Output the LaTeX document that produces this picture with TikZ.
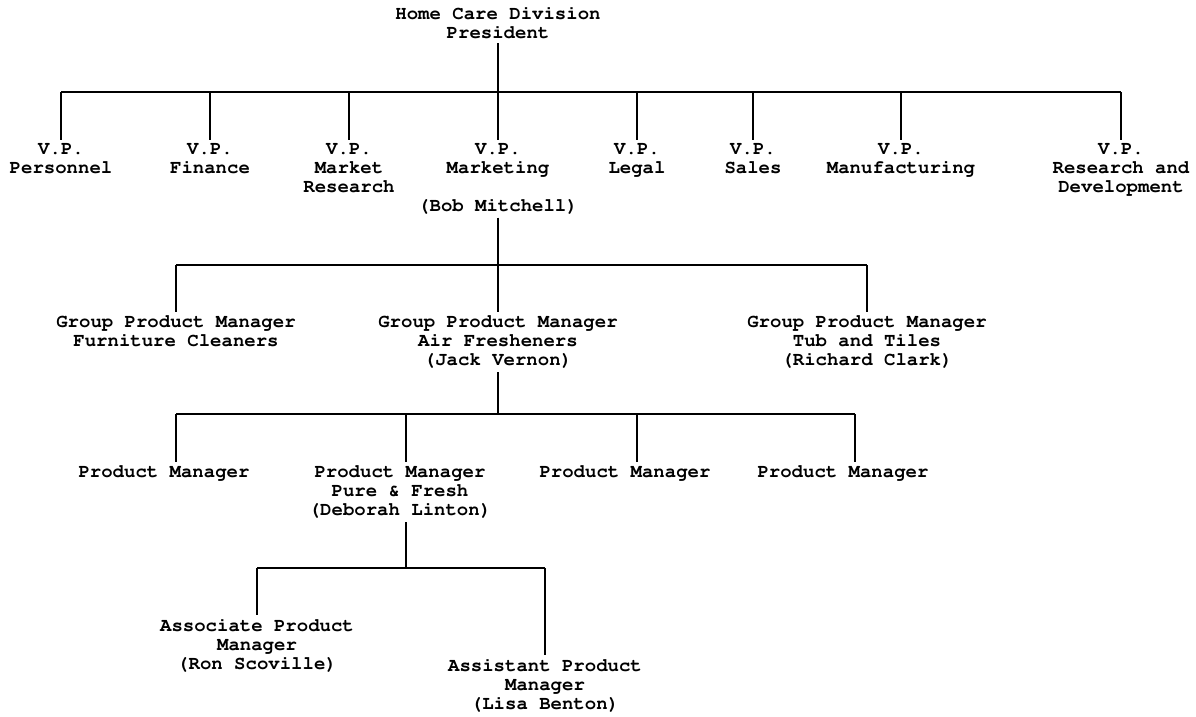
\documentclass[tikz,border=0pt]{standalone}
\usepackage[T1]{fontenc}
\usepackage{courier}
\usetikzlibrary{positioning}

\tikzset{
  post/.style={anchor=north, align=center, inner sep=0pt, outer sep=4pt,
    font=\ttfamily\bfseries\fontsize{19}{19}\selectfont},
  link/.style={line width=1.2pt}
}

\begin{document}
\begin{tikzpicture}[x=1pt, y=-1pt]
  \useasboundingbox (0,0) rectangle (1196,717);

  % 社長
  \node[post] (pres) at (498,3) {Home Care Division\\President};

  % 副社長
  \node[post] (vpPers)  at (61,140)   {V.P.\\Personnel};
  \node[post] (vpFin)   at (210,140)  {V.P.\\Finance};
  \node[post] (vpMR)    at (349,140)  {V.P.\\Market\\Research};
  \node[post] (vpMkt)   at (498,140)  {V.P.\\Marketing\\\mbox{}\\(Bob Mitchell)};
  \node[post] (vpLegal) at (637,140)  {V.P.\\Legal};
  \node[post] (vpSales) at (753,140)  {V.P.\\Sales};
  \node[post] (vpMfg)   at (901,140)  {V.P.\\Manufacturing};
  \node[post] (vpRD)    at (1121,140) {V.P.\\Research and\\Development};

  % グループ
  \node[post] (gpFurn) at (176,312) {Group Product Manager\\Furniture Cleaners};
  \node[post] (gpAir)  at (498,312) {Group Product Manager\\Air Fresheners\\(Jack Vernon)};
  \node[post] (gpTub)  at (867,312) {Group Product Manager\\Tub and Tiles\\(Richard Clark)};

  % 製品
  \node[post] (pm1) at (164,462) {Product Manager};
  \node[post] (pm2) at (400,462) {Product Manager\\Pure \& Fresh\\(Deborah Linton)};
  \node[post] (pm3) at (625,462) {Product Manager};
  \node[post] (pm4) at (843,462) {Product Manager};

  % アシスタント
  \node[post] (apmRon)  at (257,615) {Associate Product\\Manager\\(Ron Scoville)};
  \node[post] (apmLisa) at (545,655) {Assistant Product\\Manager\\(Lisa Benton)};

  % 線
  \coordinate (b1) at (0,92);
  \coordinate (b2) at (0,265);
  \coordinate (b3) at (0,414);
  \coordinate (b4) at (0,568);

  \draw[link] (pres.south) -- (pres.south |- b1);
  \draw[link] (vpPers.north |- b1) -- (vpRD.north |- b1);
  \foreach \n in {vpPers,vpFin,vpMR,vpMkt,vpLegal,vpSales,vpMfg,vpRD}
    \draw[link] (\n.north |- b1) -- (\n.north);

  \draw[link] (vpMkt.south) -- (vpMkt.south |- b2);
  \draw[link] (gpFurn.north |- b2) -- (gpTub.north |- b2);
  \foreach \n in {gpFurn,gpAir,gpTub}
    \draw[link] (\n.north |- b2) -- (\n.north);

  \draw[link] (gpAir.south) -- (gpAir.south |- b3);
  \draw[link] ([xshift=12pt]pm1.north |- b3) -- ([xshift=12pt]pm4.north |- b3);
  \draw[link] ([xshift=12pt]pm1.north |- b3) -- ([xshift=12pt]pm1.north);
  \draw[link] ([xshift=6pt]pm2.north |- b3) -- ([xshift=6pt]pm2.north);
  \draw[link] ([xshift=12pt]pm3.north |- b3) -- ([xshift=12pt]pm3.north);
  \draw[link] ([xshift=12pt]pm4.north |- b3) -- ([xshift=12pt]pm4.north);

  \draw[link] ([xshift=6pt]pm2.south) -- ([xshift=6pt]pm2.south |- b4);
  \draw[link] (apmRon.north |- b4) -- (apmLisa.north |- b4);
  \foreach \n in {apmRon,apmLisa}
    \draw[link] (\n.north |- b4) -- (\n.north);
\end{tikzpicture}
\end{document}
